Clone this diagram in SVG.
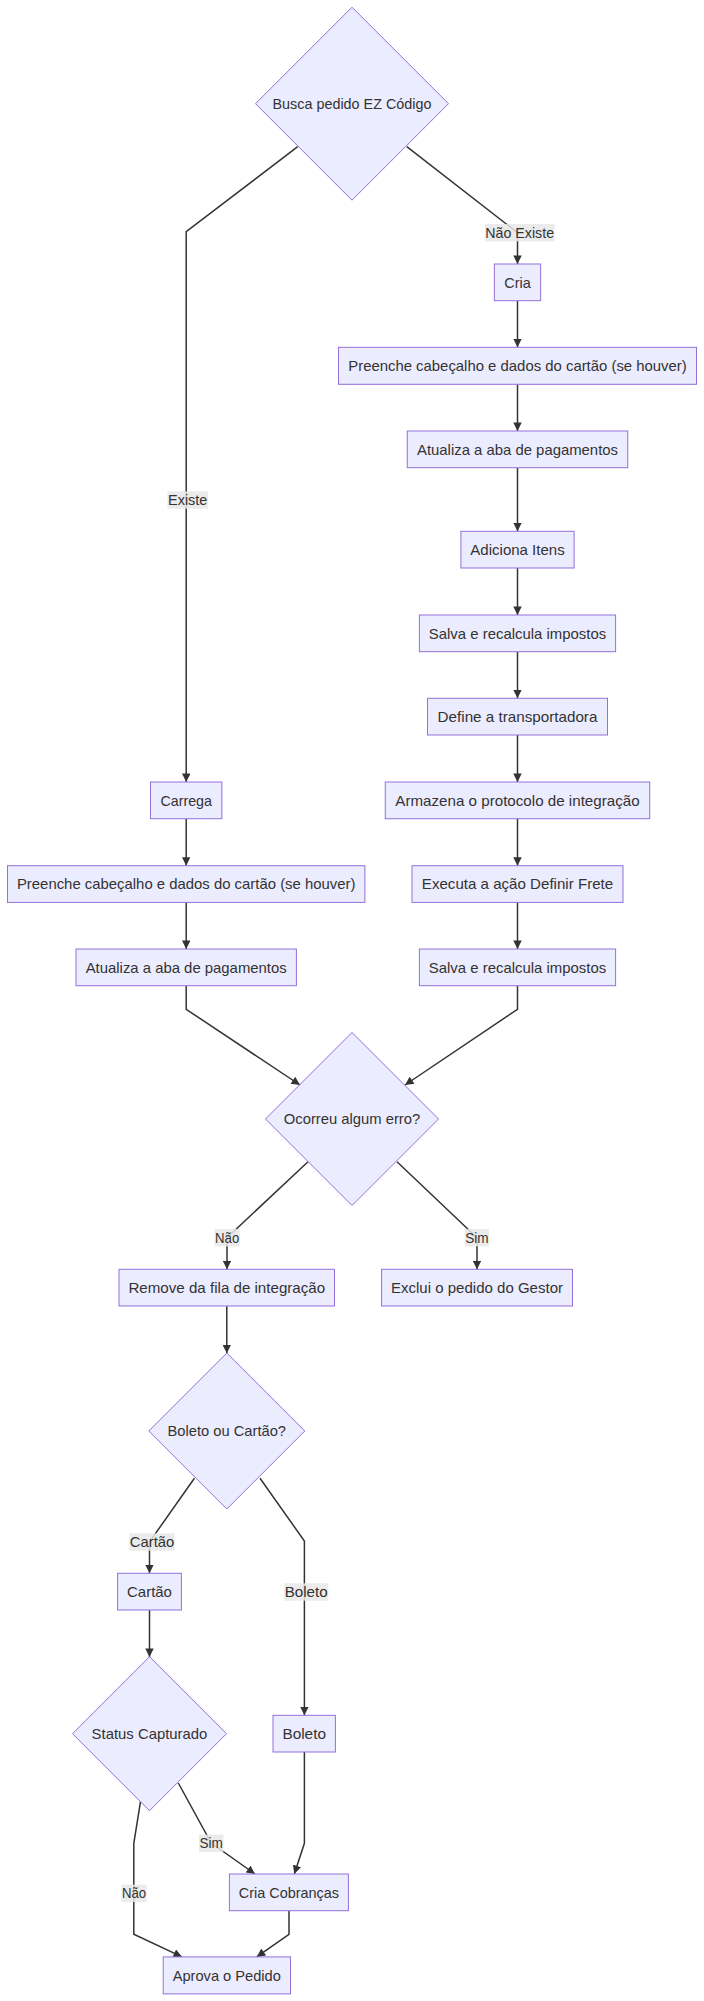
<svg xmlns="http://www.w3.org/2000/svg" width="704" height="2001" viewBox="0 0 704 2001">
<defs>
<marker id="arr" viewBox="0 0 10 10" refX="10" refY="5" markerWidth="9" markerHeight="8.5" markerUnits="userSpaceOnUse" orient="auto">
<path d="M0,0 L10,5 L0,10 z" fill="#333333"/>
</marker>
<style>
.node rect, .node polygon { fill: #ECECFF; stroke: #9370DB; stroke-width: 1; }
.node text { font-family: "Liberation Sans", Arial, sans-serif; font-size: 15px; fill: #333333; text-anchor: middle; }
.edges path { fill: none; stroke: #333333; stroke-width: 1.5; }
.lbl rect { fill: #e8e8e8; fill-opacity: 0.85; }
.lbl text { font-family: "Liberation Sans", Arial, sans-serif; font-size: 15px; fill: #333333; text-anchor: middle; }
</style>
</defs>
<rect width="704" height="2001" fill="#ffffff"/>

<g id="connectors" class="edges">
<path d="M297.7,146.7 L186.2,231.7 L186.2,782" marker-end="url(#arr)"/>
<path d="M406.8,146.7 L517.5,232.7 L517.5,264" marker-end="url(#arr)"/>
<path d="M517.5,301 L517.5,347.3" marker-end="url(#arr)"/>
<path d="M517.5,384.3 L517.5,431" marker-end="url(#arr)"/>
<path d="M517.5,467.7 L517.5,531.3" marker-end="url(#arr)"/>
<path d="M517.5,568 L517.5,615" marker-end="url(#arr)"/>
<path d="M517.5,651.7 L517.5,698.3" marker-end="url(#arr)"/>
<path d="M517.5,735 L517.5,782" marker-end="url(#arr)"/>
<path d="M517.5,818.7 L517.5,865.7" marker-end="url(#arr)"/>
<path d="M517.5,902.3 L517.5,949" marker-end="url(#arr)"/>
<path d="M186.2,818.7 L186.2,865.7" marker-end="url(#arr)"/>
<path d="M186.2,902.3 L186.2,949" marker-end="url(#arr)"/>
<path d="M186.2,985.7 L186.2,1009.3 L300,1085" marker-end="url(#arr)"/>
<path d="M517.5,985.7 L517.5,1009.3 L405,1085" marker-end="url(#arr)"/>
<path d="M308,1161.7 L227,1237.7 L227,1269.3" marker-end="url(#arr)"/>
<path d="M397,1161.7 L477,1237.7 L477,1269.3" marker-end="url(#arr)"/>
<path d="M226.8,1306 L226.8,1353.3" marker-end="url(#arr)"/>
<path d="M194.4,1478.3 L149.5,1542 L149.5,1573.3" marker-end="url(#arr)"/>
<path d="M260,1478.3 L304.4,1541 L304.4,1715.3" marker-end="url(#arr)"/>
<path d="M149.5,1610 L149.5,1657" marker-end="url(#arr)"/>
<path d="M178.3,1783 L211.2,1843 L255,1874" marker-end="url(#arr)"/>
<path d="M140.5,1801.7 L133.8,1843.3 L133.8,1934.3 L182,1956.9" marker-end="url(#arr)"/>
<path d="M304.4,1752 L304.4,1843.3 L294.3,1874" marker-end="url(#arr)"/>
<path d="M289,1911 L289,1934.3 L256.7,1956.9" marker-end="url(#arr)"/>
</g>

<g id="edge-labels">
<g class="lbl"><rect x="484.9" y="224" width="69.7" height="17.4"/><text x="519.7" y="237.7" textLength="68.7" lengthAdjust="spacingAndGlyphs">Não Existe</text></g>
<g class="lbl"><rect x="167.5" y="491.3" width="40.4" height="17.4"/><text x="187.7" y="505" textLength="39.4" lengthAdjust="spacingAndGlyphs">Existe</text></g>
<g class="lbl"><rect x="214.6" y="1229" width="25.2" height="17.4"/><text x="227.2" y="1242.7" textLength="24.2" lengthAdjust="spacingAndGlyphs">Não</text></g>
<g class="lbl"><rect x="464.7" y="1229" width="24.4" height="17.4"/><text x="476.9" y="1242.7" textLength="23.4" lengthAdjust="spacingAndGlyphs">Sim</text></g>
<g class="lbl"><rect x="129.3" y="1533.3" width="45.4" height="17.4"/><text x="152" y="1547" textLength="44.4" lengthAdjust="spacingAndGlyphs">Cartão</text></g>
<g class="lbl"><rect x="284.2" y="1583.3" width="44" height="17.4"/><text x="306.2" y="1597" textLength="43" lengthAdjust="spacingAndGlyphs">Boleto</text></g>
<g class="lbl"><rect x="199" y="1834.6" width="24.4" height="17.4"/><text x="211.2" y="1848.3" textLength="23.4" lengthAdjust="spacingAndGlyphs">Sim</text></g>
<g class="lbl"><rect x="121.4" y="1884.6" width="25.2" height="17.4"/><text x="134" y="1898.3" textLength="24.2" lengthAdjust="spacingAndGlyphs">Não</text></g>
</g>

<g id="busca" class="node"><polygon points="352,7.2 448.5,103.7 352,200.2 255.5,103.7"/><text x="352" y="109" textLength="159" lengthAdjust="spacingAndGlyphs">Busca pedido EZ Código</text></g>
<g id="cria" class="node"><rect x="494.35" y="264" width="46.3" height="36.7"/><text x="517.5" y="287.7" textLength="26.5" lengthAdjust="spacingAndGlyphs">Cria</text></g>
<g id="preencheR" class="node"><rect x="338.5" y="347.3" width="358" height="37"/><text x="517.5" y="371.1" textLength="338.5" lengthAdjust="spacingAndGlyphs">Preenche cabeçalho e dados do cartão (se houver)</text></g>
<g id="atualizaR" class="node"><rect x="407.25" y="431" width="220.5" height="36.7"/><text x="517.5" y="454.7" textLength="201" lengthAdjust="spacingAndGlyphs">Atualiza a aba de pagamentos</text></g>
<g id="adiciona" class="node"><rect x="460.9" y="531.3" width="113.2" height="36.7"/><text x="517.5" y="555" textLength="94.3" lengthAdjust="spacingAndGlyphs">Adiciona Itens</text></g>
<g id="salva1" class="node"><rect x="419.4" y="615" width="196.2" height="36.7"/><text x="517.5" y="638.7" textLength="177.4" lengthAdjust="spacingAndGlyphs">Salva e recalcula impostos</text></g>
<g id="define" class="node"><rect x="427.5" y="698.3" width="180" height="36.7"/><text x="517.5" y="722" textLength="159.8" lengthAdjust="spacingAndGlyphs">Define a transportadora</text></g>
<g id="armazena" class="node"><rect x="385.25" y="782" width="264.5" height="36.7"/><text x="517.5" y="805.7" textLength="244.3" lengthAdjust="spacingAndGlyphs">Armazena o protocolo de integração</text></g>
<g id="executa" class="node"><rect x="412" y="865.7" width="211" height="36.7"/><text x="517.5" y="889.4" textLength="191.3" lengthAdjust="spacingAndGlyphs">Executa a ação Definir Frete</text></g>
<g id="salva2" class="node"><rect x="419.4" y="949" width="196.2" height="36.7"/><text x="517.5" y="972.7" textLength="177.4" lengthAdjust="spacingAndGlyphs">Salva e recalcula impostos</text></g>
<g id="carrega" class="node"><rect x="150.5" y="782" width="71.4" height="36.7"/><text x="186.2" y="805.7" textLength="51.6" lengthAdjust="spacingAndGlyphs">Carrega</text></g>
<g id="preencheL" class="node"><rect x="7.5" y="865.7" width="357.4" height="36.7"/><text x="186.2" y="889.4" textLength="338.5" lengthAdjust="spacingAndGlyphs">Preenche cabeçalho e dados do cartão (se houver)</text></g>
<g id="atualizaL" class="node"><rect x="76" y="949" width="220.4" height="36.7"/><text x="186.2" y="972.7" textLength="201" lengthAdjust="spacingAndGlyphs">Atualiza a aba de pagamentos</text></g>
<g id="ocorreu" class="node"><polygon points="352,1032.5 438.5,1119 352,1205.5 265.5,1119"/><text x="352" y="1124.3" textLength="136.5" lengthAdjust="spacingAndGlyphs">Ocorreu algum erro?</text></g>
<g id="remove" class="node"><rect x="119" y="1269.3" width="215.5" height="36.7"/><text x="226.8" y="1293" textLength="196.7" lengthAdjust="spacingAndGlyphs">Remove da fila de integração</text></g>
<g id="exclui" class="node"><rect x="381.6" y="1269.3" width="190.9" height="36.7"/><text x="477" y="1293" textLength="172" lengthAdjust="spacingAndGlyphs">Exclui o pedido do Gestor</text></g>
<g id="boletoOuCartao" class="node"><polygon points="226.8,1353 304.8,1431 226.8,1509 148.8,1431"/><text x="226.8" y="1436.3" textLength="118.5" lengthAdjust="spacingAndGlyphs">Boleto ou Cartão?</text></g>
<g id="cartao" class="node"><rect x="117.6" y="1573.3" width="63.8" height="36.7"/><text x="149.5" y="1597" textLength="44.9" lengthAdjust="spacingAndGlyphs">Cartão</text></g>
<g id="boleto" class="node"><rect x="273" y="1715.3" width="62.4" height="36.7"/><text x="304.2" y="1739" textLength="43.6" lengthAdjust="spacingAndGlyphs">Boleto</text></g>
<g id="status" class="node"><polygon points="149.5,1656.7 226.5,1733.7 149.5,1810.7 72.5,1733.7"/><text x="149.5" y="1739" textLength="115.8" lengthAdjust="spacingAndGlyphs">Status Capturado</text></g>
<g id="criaCobrancas" class="node"><rect x="229.4" y="1874" width="119" height="36.7"/><text x="288.9" y="1897.7" textLength="100.1" lengthAdjust="spacingAndGlyphs">Cria Cobranças</text></g>
<g id="aprova" class="node"><rect x="163.2" y="1956.9" width="127.3" height="37"/><text x="226.8" y="1980.7" textLength="108.2" lengthAdjust="spacingAndGlyphs">Aprova o Pedido</text></g>
</svg>
